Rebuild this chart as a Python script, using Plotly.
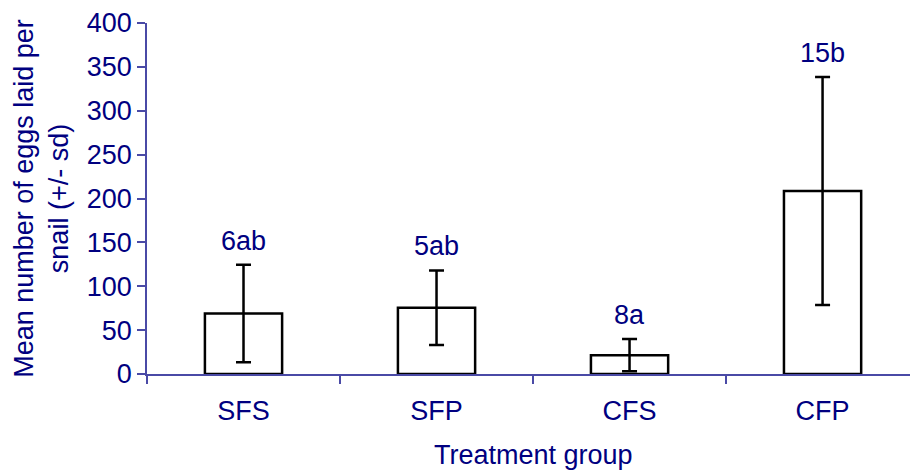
import plotly.graph_objects as go

groups = ["SFS", "SFP", "CFS", "CFP"]
means = [69, 75.5, 21.5, 208.5]
sds = [55.5, 42.5, 18.5, 130]
labels = ["6ab", "5ab", "8a", "15b"]

NAVY = "#000080"
AXIS = "#4a4aa6"
FONT = "Liberation Sans, Arial, sans-serif"
FS = 27

fig = go.Figure()
fig.add_trace(go.Bar(
    x=groups, y=means, width=0.4,
    marker=dict(color="white", line=dict(color="black", width=2.5)),
    error_y=dict(type="data", array=sds, visible=True, color="black",
                 thickness=2.5, width=7.5),
))

for g, m, s, t in zip(groups, means, sds, labels):
    fig.add_annotation(x=g, y=m + s, text=t, showarrow=False, xref="x", yref="y",
                       yanchor="middle", yshift=24,
                       font=dict(size=FS, color=NAVY, family=FONT))

fig.add_annotation(x=1.5, y=0, xref="x", yref="paper", text="Treatment group",
                   showarrow=False, yanchor="middle", yshift=-81,
                   font=dict(size=FS, color=NAVY, family=FONT))

fig.update_layout(
    width=910, height=470,
    margin=dict(l=147, r=0, t=23, b=96),
    plot_bgcolor="white", paper_bgcolor="white",
    showlegend=False,
    font=dict(family=FONT, color=NAVY, size=FS),
    xaxis=dict(type="category", range=[-0.5, 3.453], showline=True, linecolor=AXIS,
               linewidth=1.5, ticks="outside", tickson="boundaries", ticklen=8,
               tickcolor=AXIS, tickwidth=1.5, showgrid=False, zeroline=False,
               ticklabelstandoff=12,
               tickfont=dict(size=FS, color=NAVY)),
    yaxis=dict(range=[0, 400], dtick=50, showline=True, linecolor=AXIS, linewidth=1.5,
               ticks="outside", ticklen=8, tickcolor=AXIS, tickwidth=1.5,
               showgrid=False, zeroline=False, tickfont=dict(size=FS, color=NAVY),
               title=dict(text="Mean number of eggs laid per<br>snail (+/- sd)",
                          font=dict(size=FS, color=NAVY), standoff=10)),
)

fig.write_html("out.html")
